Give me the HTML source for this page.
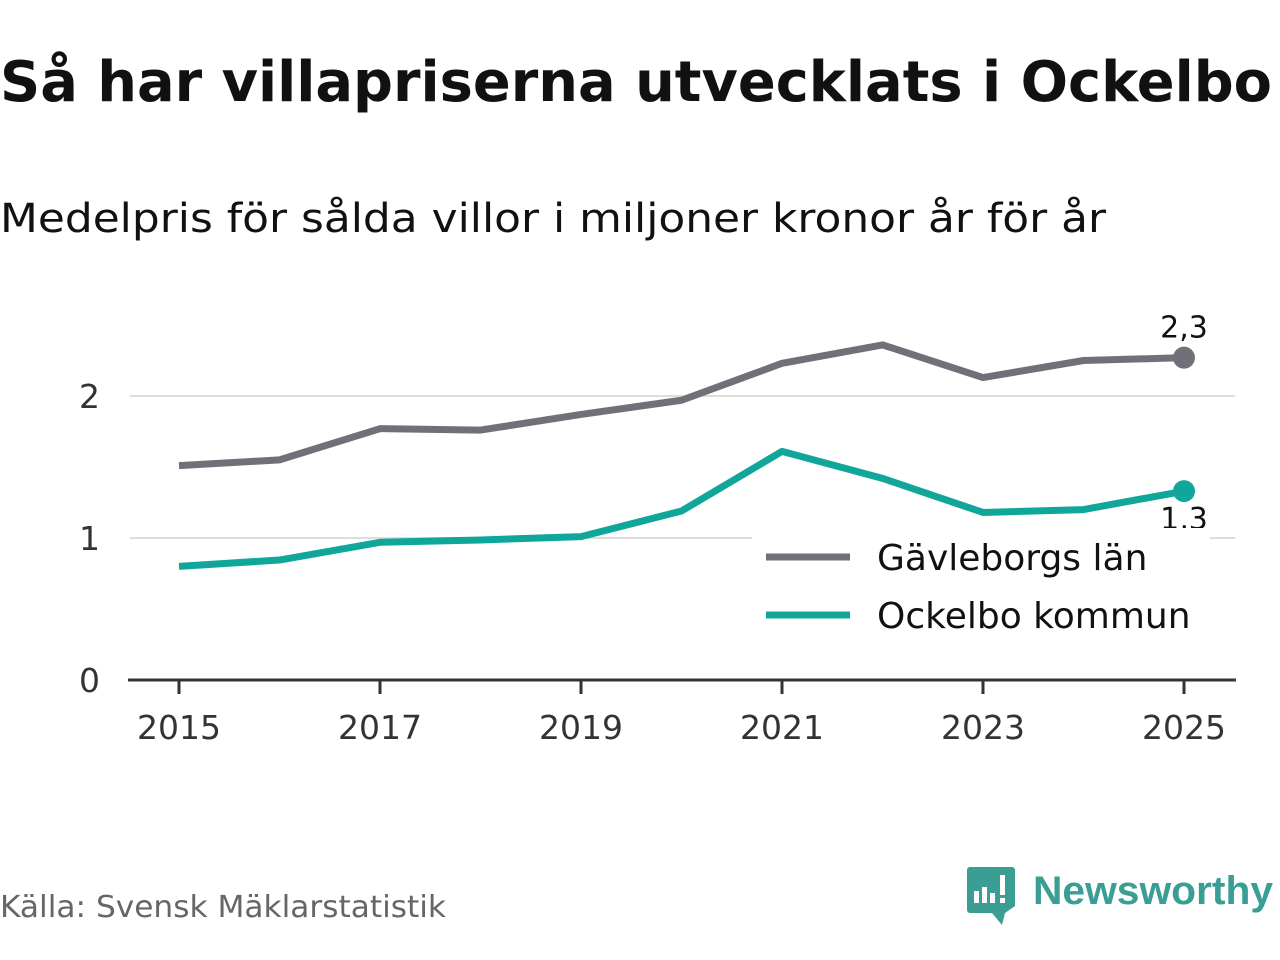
<!DOCTYPE html>
<html><head><meta charset="utf-8"><style>
body{margin:0;width:1280px;height:960px;background:#fff;overflow:hidden;font-family:"DejaVu Sans","Liberation Sans",sans-serif;}
</style></head><body>
<svg width="1280" height="960" style="position:absolute;left:0;top:0">
<text x="0" y="101" font-size="56" font-weight="bold" fill="#111" textLength="1272" lengthAdjust="spacingAndGlyphs">Så har villapriserna utvecklats i Ockelbo</text>
<text x="0" y="232" font-size="40" fill="#111" textLength="1106" lengthAdjust="spacingAndGlyphs">Medelpris för sålda villor i miljoner kronor år för år</text>
<g id="grid"></g><g id="axes"></g><g id="lines"></g>
<text x="0" y="917" font-size="30" fill="#666" textLength="446" lengthAdjust="spacingAndGlyphs">Källa: Svensk Mäklarstatistik</text>
<g>
<path d="M970 867 h42 a3 3 0 0 1 3 3 v36 l-10 7 l-3 12 l-10 -12 h-22 a3 3 0 0 1 -3 -3 v-40 a3 3 0 0 1 3 -3z" fill="#3a9e94"/>
<rect x="974" y="891" width="5" height="12" fill="#fff"/><rect x="982" y="887" width="5" height="16" fill="#fff"/><rect x="990" y="893" width="5" height="10" fill="#fff"/><rect x="1000" y="875" width="5" height="20" fill="#fff"/><rect x="1000" y="898" width="5" height="5" fill="#fff"/>
<text x="1033" y="904" font-size="40" font-weight="bold" fill="#3a9e94" font-family="Liberation Sans,sans-serif" textLength="240" lengthAdjust="spacingAndGlyphs">Newsworthy</text>
</g>
</svg>
<script>
const years=[2015,2016,2017,2018,2019,2020,2021,2022,2023,2024,2025];
const gavleborg=[1.51,1.55,1.77,1.76,1.87,1.97,2.23,2.36,2.13,2.25,2.27];
const ockelbo=[0.80,0.845,0.97,0.986,1.01,1.19,1.61,1.42,1.18,1.20,1.33];
const yTicks=[0,1,2];
const xTickYears=[2015,2017,2019,2021,2023,2025];
const endLabels=["2,3","1,3"];
const x=v=>179+(v-2015)*100.5;
const y=v=>680-v*142;
const NS="http://www.w3.org/2000/svg";
function mk(t,a,p){const e=document.createElementNS(NS,t);for(const k in a)e.setAttribute(k,a[k]);p.appendChild(e);return e;}
const grid=document.getElementById('grid'),axes=document.getElementById('axes'),lines=document.getElementById('lines');
yTicks.forEach(t=>{
 if(t>0){const g=mk('line',{x1:130,x2:1235,y1:y(t),y2:y(t),stroke:'#ddd','stroke-width':2},grid);
 
 }
 const l=mk('text',{x:100,y:y(t)+12,'font-size':33,fill:'#333','text-anchor':'end'},axes);l.textContent=t;
 
 
});
const ax=mk('line',{x1:128,x2:1236,y1:680,y2:680,stroke:'#333','stroke-width':3},axes);


xTickYears.forEach(t=>{
 const tk=mk('line',{x1:x(t),x2:x(t),y1:680,y2:694,stroke:'#333','stroke-width':3},axes);
 
 
 const l=mk('text',{x:x(t),y:739,'font-size':33,fill:'#333','text-anchor':'middle'},axes);l.textContent=t;
 
 
});
[[gavleborg,'#707078','gavleborg'],[ockelbo,'#10a79a','ockelbo']].forEach(([s,c,n],i)=>{
 const p=mk('polyline',{points:s.map((v,j)=>x(years[j])+','+y(v)).join(' '),fill:'none',stroke:c,'stroke-width':7,'stroke-linejoin':'round'},lines);
 
 
 const last=s.length-1;
 const d=mk('circle',{cx:x(years[last]),cy:y(s[last]),r:11,fill:c},lines);
 
 
 const t=mk('text',{x:x(years[last]),y:i==0?y(s[last])-20:y(s[last])+38,'font-size':30,fill:'#111','text-anchor':'middle'},lines);t.textContent=endLabels[i];
 
 
});
const lg=mk('g',{},lines);


mk('rect',{x:752,y:528,width:458,height:114,fill:'#fff'},lg);
[['Gävleborgs län','#707078',557],['Ockelbo kommun','#10a79a',615]].forEach(([n,c,yy])=>{
 const e=mk('g',{},lg);
 
 
 mk('line',{x1:766,x2:850,y1:yy,y2:yy,stroke:c,'stroke-width':7},e);
 const t=mk('text',{x:877,y:yy+13,'font-size':36,fill:'#111'},e);t.textContent=n;
});
</script>
</body></html>
